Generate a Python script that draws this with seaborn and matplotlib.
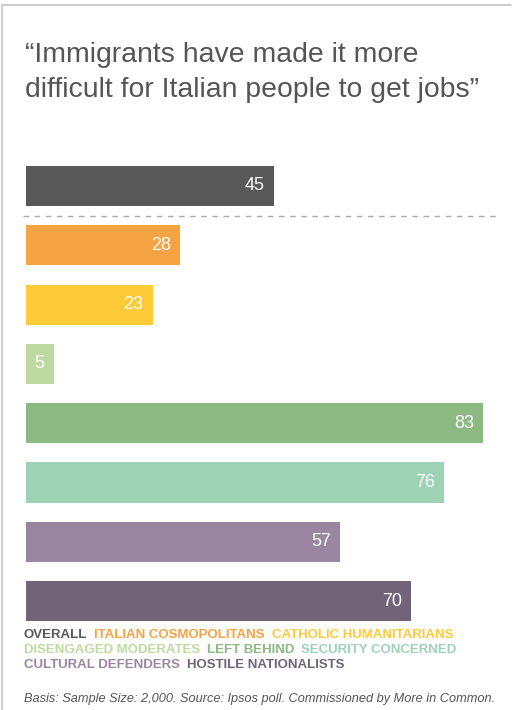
import matplotlib
matplotlib.use("Agg")
import matplotlib.pyplot as plt
import seaborn as sns
from matplotlib.lines import Line2D
from matplotlib.offsetbox import TextArea, HPacker, VPacker, AnchoredOffsetbox

# --- data ---
segments = [
    "Overall",
    "Italian Cosmopolitans",
    "Catholic Humanitarians",
    "Disengaged Moderates",
    "Left Behind",
    "Security Concerned",
    "Cultural Defenders",
    "Hostile Nationalists",
]
values = [45, 28, 23, 5, 83, 76, 57, 70]
colors = ["#585858", "#F6A344", "#FDCA38", "#BDDAA0",
          "#8CB982", "#9DD2B5", "#9A86A0", "#716478"]
legend_rows = [[0, 1, 2], [3, 4, 5], [6, 7]]

title_lines = ["\u201cImmigrants have made it more",
               "difficult for Italian people to get jobs\u201d"]
footer = "Basis: Sample Size: 2,000. Source: Ipsos poll. Commissioned by More in Common."

sns.set_style("white")
plt.rcParams["font.family"] = ["Liberation Sans", "DejaVu Sans"]

W, H = 515, 710
fig = plt.figure(figsize=(W / 100, H / 100), dpi=100)
ax = fig.add_axes([26 / W, 1 - 630.75 / H, 468 / W, 474.4 / H])

sns.barplot(x=values, y=segments, hue=segments, palette=colors,
            legend=False, orient="h", width=0.675, saturation=1,
            linewidth=0, ax=ax)
ax.set_xlim(0, 85)
ax.set_ylim(7.5, -0.5)
ax.axis("off")

# value labels inside the bar ends
for bar, v in zip(ax.patches, values):
    y = bar.get_y() + bar.get_height() / 2
    ax.annotate(str(v), xy=(bar.get_width(), y), xytext=(-6.5, 0),
                textcoords="offset points", ha="right", va="center",
                color="white", fontsize=13)

# dashed separator under "overall"
ax.axhline(0.5, xmin=-3 / 468, xmax=473 / 468, clip_on=False,
           color="#aaaaaa", lw=1, ls=(0, (4, 4)))

# title
fig.text(25 / W, 1 - 62 / H, title_lines[0], fontsize=20.4, color="#555555",
         ha="left", va="baseline")
fig.text(25 / W, 1 - 97 / H, title_lines[1], fontsize=20.4, color="#555555",
         ha="left", va="baseline")

# coloured legend text
rows = []
for row in legend_rows:
    items = [TextArea(segments[i].upper(),
                      textprops=dict(color=colors[i], fontsize=9.5,
                                     fontweight="bold"))
             for i in row]
    rows.append(HPacker(children=items, align="baseline", pad=0, sep=5))
legend_box = VPacker(children=rows, align="left", pad=0, sep=2)
anchored = AnchoredOffsetbox(loc="upper left", child=legend_box, pad=0,
                             frameon=False, bbox_to_anchor=(24 / W, 1 - 629 / H),
                             bbox_transform=fig.transFigure, borderpad=0)
fig.add_artist(anchored)

# footer
fig.text(24 / W, 1 - 702 / H, footer, fontsize=9.2, style="italic",
         color="#555555", ha="left", va="baseline")

# frame lines
fig.add_artist(Line2D([2 / W, 2 / W], [0, 1 - 5 / H], transform=fig.transFigure,
                      color="#c4c4c4", lw=1.2))
fig.add_artist(Line2D([2 / W, 511 / W], [1 - 5 / H, 1 - 5 / H],
                      transform=fig.transFigure, color="#c4c4c4", lw=1.2))

fig.savefig("out.png", dpi=100)
